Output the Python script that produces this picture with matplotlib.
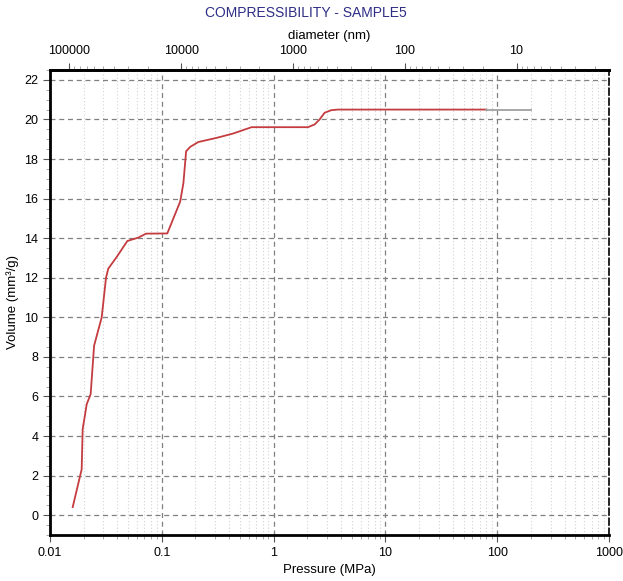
import matplotlib
matplotlib.use('Agg')
import matplotlib.pyplot as plt
from matplotlib.ticker import LogLocator, AutoMinorLocator, NullFormatter

plt.rcParams['font.family'] = ['Liberation Sans', 'DejaVu Sans']

# intrusion curve
pressure = [0.01596, 0.0192, 0.0196, 0.0213, 0.0231, 0.0248, 0.0290, 0.0317, 0.0332,
            0.0395, 0.0492, 0.0617, 0.0722, 0.112, 0.146, 0.156, 0.165, 0.179, 0.212,
            0.309, 0.435, 0.635, 2.03, 2.33, 2.58, 2.86, 3.28, 3.76, 80]
volume = [0.41, 2.32, 4.35, 5.61, 6.12, 8.57, 10.0, 12.0, 12.46, 13.05, 13.86, 14.03,
          14.23, 14.24, 15.85, 16.78, 18.39, 18.61, 18.86, 19.07, 19.29, 19.61, 19.61,
          19.75, 20.0, 20.34, 20.47, 20.5, 20.5]
# grey tail at the end
pressure_tail = [80, 200]
volume_tail = [20.5, 20.5]

x_ticks = [0.01, 0.1, 1, 10, 100, 1000]
x_labels = ['0.01', '0.1', '1', '10', '100', '1000']
d_ticks = [100000, 10000, 1000, 100, 10]
d_labels = ['100000', '10000', '1000', '100', '10']
y_ticks = list(range(0, 23, 2))

WASHBURN = 1490.0  # d(nm) * P(MPa)

fig = plt.figure(figsize=(6.23, 5.81), dpi=100)
ax = fig.add_axes([50 / 623, 1 - 535 / 581, 559 / 623, 465 / 581])

ax.plot(pressure, volume, color='#c43c40', lw=1.3)
ax.plot(pressure_tail, volume_tail, color='#a0a0a0', lw=1.3)

ax.set_xscale('log')
ax.set_xlim(0.01, 1000)
ax.set_ylim(-1, 22.5)
ax.set_xticks(x_ticks)
ax.set_xticklabels(x_labels)
ax.xaxis.set_minor_locator(LogLocator(base=10, subs=range(2, 10)))
ax.xaxis.set_minor_formatter(NullFormatter())
ax.set_yticks(y_ticks)
ax.yaxis.set_minor_locator(AutoMinorLocator(4))

ax.grid(True, which='major', axis='both', color='#808080', ls=(0, (4, 3)), lw=0.9)
ax.grid(True, which='minor', axis='x', color='#d2d2d2', ls=(0, (1, 2)), lw=0.8)
ax.set_axisbelow(True)

for s in ['left', 'bottom', 'top']:
    ax.spines[s].set_linewidth(2)
ax.spines['right'].set_linestyle((0, (4, 2)))
ax.spines['right'].set_linewidth(1.2)

ax.tick_params(which='major', direction='out', length=5, labelsize=9, color='#555555')
ax.tick_params(which='minor', direction='out', length=3, color='#999999')
ax.tick_params(axis='x', which='both', top=False)

ax.set_xlabel('Pressure (MPa)', fontsize=9.5, labelpad=4)
ax.set_ylabel('Volume (mm³/g)', fontsize=9.5, labelpad=4)

top = ax.secondary_xaxis('top', functions=(lambda p: WASHBURN / p, lambda d: WASHBURN / d))
top.set_xticks(d_ticks)
top.set_xticklabels(d_labels)
top.xaxis.set_minor_locator(LogLocator(base=10, subs=range(2, 10)))
top.xaxis.set_minor_formatter(NullFormatter())
top.tick_params(which='major', direction='out', length=5, labelsize=9, color='#555555', pad=4)
top.tick_params(which='minor', direction='out', length=3, color='#999999')
top.spines['top'].set_linewidth(2)
top.set_xlabel('diameter (nm)', fontsize=9.5, labelpad=5)

fig.text(306 / 623, 1 - 13 / 581, 'COMPRESSIBILITY - SAMPLE5', ha='center', va='center',
         fontsize=10, color='#2e2e86')

fig.savefig('out.png', dpi=100)
